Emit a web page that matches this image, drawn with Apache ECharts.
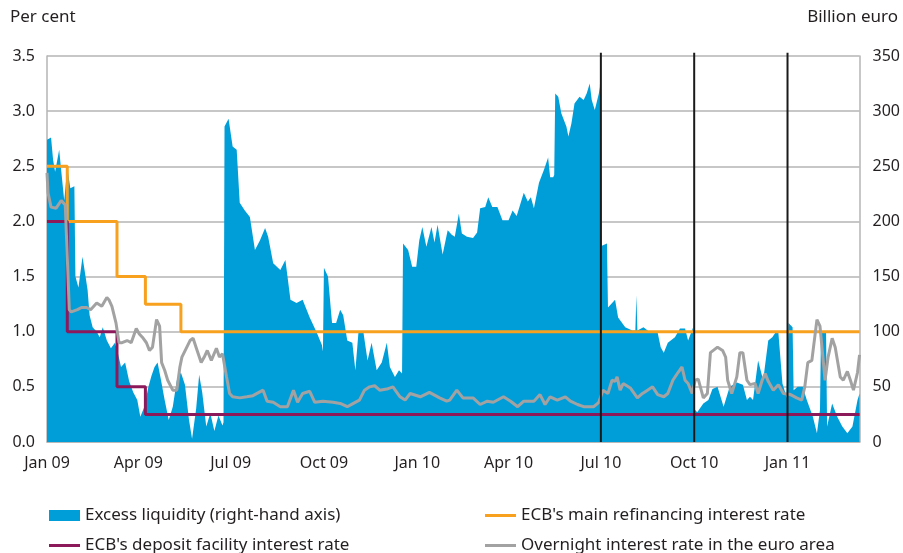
<!DOCTYPE html>
<html>
<head>
<meta charset="utf-8">
<script src="https://cdn.jsdelivr.net/npm/echarts@6/dist/echarts.min.js"></script>
<style>
  html, body { margin: 0; padding: 0; background: #fff; }
  #main { width: 903px; height: 553px; }
</style>
</head>
<body>
<div id="main"></div>
<script>
// excess liquidity, billion euro (right-hand axis)
var liquidityDates = [
  '2009-01-01','2009-01-05','2009-01-07','2009-01-09','2009-01-13','2009-01-16','2009-01-18','2009-01-21','2009-01-24','2009-01-28',
  '2009-01-29','2009-02-01','2009-02-05','2009-02-08','2009-02-10','2009-02-12','2009-02-15','2009-02-19','2009-02-22','2009-02-25',
  '2009-03-01','2009-03-05','2009-03-09','2009-03-12','2009-03-15','2009-03-19','2009-03-23','2009-03-27','2009-03-31','2009-04-03',
  '2009-04-07','2009-04-11','2009-04-14','2009-04-17','2009-04-20','2009-04-23','2009-04-27','2009-05-01','2009-05-05','2009-05-09',
  '2009-05-13','2009-05-17','2009-05-21','2009-05-24','2009-05-28','2009-05-31','2009-06-03','2009-06-07','2009-06-11','2009-06-15',
  '2009-06-19','2009-06-23','2009-06-24','2009-06-25','2009-06-29','2009-07-03','2009-07-07','2009-07-10','2009-07-15','2009-07-20',
  '2009-07-25','2009-07-30','2009-08-04','2009-08-07','2009-08-12','2009-08-19','2009-08-24','2009-08-29','2009-09-04','2009-09-10',
  '2009-09-17','2009-09-24','2009-09-29','2009-09-30','2009-10-01','2009-10-05','2009-10-09','2009-10-13','2009-10-17','2009-10-20',
  '2009-10-24','2009-10-29','2009-11-01','2009-11-04','2009-11-09','2009-11-13','2009-11-17','2009-11-22','2009-11-27','2009-12-02',
  '2009-12-05','2009-12-10','2009-12-14','2009-12-17','2009-12-18','2009-12-23','2009-12-27','2009-12-31',
  '2010-01-03','2010-01-06','2010-01-10','2010-01-15','2010-01-18','2010-01-21','2010-01-26','2010-01-31','2010-02-04','2010-02-07',
  '2010-02-11','2010-02-14','2010-02-19','2010-02-25','2010-03-01','2010-03-04','2010-03-09','2010-03-12','2010-03-16','2010-03-21',
  '2010-03-26','2010-04-01','2010-04-05','2010-04-09','2010-04-13','2010-04-16','2010-04-20','2010-04-23','2010-04-26','2010-05-01',
  '2010-05-06','2010-05-10','2010-05-12','2010-05-15','2010-05-16','2010-05-17','2010-05-20','2010-05-23','2010-05-28','2010-05-30',
  '2010-06-02','2010-06-05','2010-06-10','2010-06-14','2010-06-17','2010-06-20','2010-06-22','2010-06-25','2010-06-29','2010-06-30',
  '2010-07-01','2010-07-02','2010-07-07','2010-07-08','2010-07-15','2010-07-18','2010-07-25','2010-08-01','2010-08-04','2010-08-05',
  '2010-08-06','2010-08-12','2010-08-19','2010-08-26','2010-08-29','2010-09-01','2010-09-05','2010-09-12','2010-09-17','2010-09-22',
  '2010-09-25','2010-09-30','2010-10-01','2010-10-04','2010-10-10','2010-10-15','2010-10-19','2010-10-24','2010-10-30','2010-11-05',
  '2010-11-12','2010-11-18','2010-11-22','2010-11-25','2010-11-28','2010-12-03','2010-12-08','2010-12-13','2010-12-17','2010-12-20',
  '2010-12-23','2010-12-27','2010-12-30','2010-12-31',
  '2011-01-02','2011-01-06','2011-01-07','2011-01-11','2011-01-16','2011-01-20','2011-01-26','2011-01-30','2011-02-02','2011-02-03',
  '2011-02-08','2011-02-09','2011-02-14','2011-02-19','2011-02-24','2011-03-01','2011-03-06','2011-03-11','2011-03-13'
];
var liquidityValues = [
  274,276,256,245,265,237,219,249,230,232,
  150,140,168,150,138,115,104,100,95,104,
  92,85,90,80,68,72,55,45,38,23,
  32,50,60,68,72,58,38,20,32,56,
  63,52,20,3,30,61,45,14,26,10,
  24,15,18,286,293,268,265,217,210,204,
  174,183,194,186,162,156,165,129,126,129,
  113,99,88,82,158,150,108,108,120,115,
  92,90,65,99,99,74,90,65,72,90,
  68,59,65,62,180,174,159,159,
  183,195,177,195,181,197,170,192,188,186,
  207,189,186,185,190,212,213,222,213,213,
  201,201,210,205,217,226,218,222,212,235,
  247,258,240,240,242,316,313,298,286,277,
  289,307,313,310,316,325,310,301,316,322,
  349,178,180,122,129,113,104,101,101,133,
  101,104,99,99,86,81,90,95,103,103,
  92,104,30,27,35,38,48,50,32,50,
  54,52,38,41,38,74,56,92,95,99,
  99,53,44,40,
  108,104,47,50,50,38,23,8,29,99,
  99,14,35,23,14,8,14,38,44
];

// overnight interest rate in the euro area, per cent
var overnightDates = [
  '2009-01-01','2009-01-02','2009-01-05','2009-01-10','2009-01-15','2009-01-19','2009-01-23','2009-01-25','2009-01-31','2009-02-04',
  '2009-02-09','2009-02-13','2009-02-19','2009-02-24','2009-03-01','2009-03-03','2009-03-06','2009-03-10','2009-03-13','2009-03-16',
  '2009-03-21','2009-03-25','2009-03-30','2009-04-02','2009-04-05','2009-04-09','2009-04-12','2009-04-15','2009-04-19','2009-04-22',
  '2009-04-24','2009-04-27','2009-04-30','2009-05-05','2009-05-09','2009-05-12','2009-05-14','2009-05-22','2009-05-25','2009-05-29',
  '2009-06-02','2009-06-05','2009-06-08','2009-06-12','2009-06-17','2009-06-20','2009-06-23','2009-06-27','2009-06-30','2009-07-03',
  '2009-07-10','2009-07-17','2009-07-23','2009-08-02','2009-08-06','2009-08-12','2009-08-19','2009-08-26','2009-09-01','2009-09-05',
  '2009-09-10','2009-09-17','2009-09-22','2009-09-30','2009-10-10','2009-10-17','2009-10-24','2009-10-30','2009-11-05','2009-11-10',
  '2009-11-15','2009-11-20','2009-11-25','2009-12-02','2009-12-08','2009-12-15','2009-12-20','2009-12-25',
  '2010-01-04','2010-01-13','2010-01-23','2010-01-30','2010-02-02','2010-02-09','2010-02-15','2010-02-25','2010-03-04','2010-03-11',
  '2010-03-17','2010-03-27','2010-04-03','2010-04-10','2010-04-16','2010-04-26','2010-05-02','2010-05-07','2010-05-12','2010-05-19',
  '2010-05-27','2010-06-01','2010-06-08','2010-06-14','2010-06-24','2010-06-29','2010-07-03','2010-07-08','2010-07-12','2010-07-15',
  '2010-07-17','2010-07-20','2010-07-23','2010-07-30','2010-08-06','2010-08-11','2010-08-16','2010-08-21','2010-08-26','2010-09-01',
  '2010-09-05','2010-09-10','2010-09-15','2010-09-19','2010-09-22','2010-09-25','2010-09-29','2010-10-02','2010-10-05','2010-10-10',
  '2010-10-14','2010-10-17','2010-10-24','2010-10-29','2010-11-01','2010-11-03','2010-11-07','2010-11-12','2010-11-15','2010-11-18',
  '2010-11-22','2010-11-25','2010-11-30','2010-12-03','2010-12-07','2010-12-10','2010-12-13','2010-12-18','2010-12-23','2010-12-28',
  '2011-01-04','2011-01-10','2011-01-15','2011-01-18','2011-01-21','2011-01-25','2011-01-30','2011-02-02','2011-02-07','2011-02-10',
  '2011-02-14','2011-02-17','2011-02-22','2011-02-25','2011-03-01','2011-03-04','2011-03-07','2011-03-11','2011-03-13'
];
var overnightValues = [
  2.44,2.26,2.13,2.12,2.19,2.15,1.20,1.18,1.20,1.22,
  1.22,1.20,1.26,1.23,1.31,1.29,1.23,1.08,0.90,0.90,
  0.92,0.90,1.03,0.98,0.95,0.90,0.83,0.86,1.11,1.05,
  0.72,0.65,0.56,0.47,0.47,0.68,0.77,0.92,0.94,0.83,
  0.72,0.77,0.83,0.74,0.85,0.77,0.80,0.59,0.44,0.41,
  0.40,0.41,0.42,0.47,0.37,0.36,0.32,0.32,0.47,0.36,
  0.44,0.46,0.36,0.37,0.36,0.35,0.32,0.35,0.38,0.47,
  0.50,0.51,0.47,0.48,0.50,0.41,0.38,0.44,
  0.41,0.45,0.40,0.37,0.38,0.47,0.40,0.40,0.34,0.37,
  0.36,0.41,0.37,0.32,0.37,0.37,0.43,0.34,0.41,0.38,
  0.41,0.37,0.34,0.32,0.32,0.36,0.47,0.44,0.56,0.55,
  0.59,0.47,0.53,0.49,0.40,0.44,0.47,0.50,0.43,0.41,
  0.44,0.56,0.63,0.68,0.56,0.53,0.44,0.56,0.57,0.40,
  0.44,0.81,0.86,0.83,0.77,0.56,0.44,0.59,0.81,0.81,
  0.56,0.52,0.53,0.44,0.56,0.62,0.55,0.47,0.52,0.44,
  0.43,0.40,0.38,0.50,0.72,0.74,1.11,1.05,0.56,0.77,
  0.94,0.86,0.59,0.56,0.64,0.56,0.47,0.63,0.79
];

// ECB policy rates, per cent (value holds until the next date)
var refiDates = ['2009-01-01','2009-01-21','2009-03-11','2009-04-08','2009-05-13','2011-03-13'];
var refiValues = [2.5, 2.0, 1.5, 1.25, 1.0, 1.0];
var depositDates = ['2009-01-01','2009-01-21','2009-03-11','2009-04-08','2011-03-13'];
var depositValues = [2.0, 1.0, 0.5, 0.25, 0.25];

// x axis
var tickDates = ['2009-01-01','2009-04-01','2009-07-01','2009-10-01','2010-01-01','2010-04-01','2010-07-01','2010-10-01','2011-01-01'];
var tickLabels = ['Jan 09','Apr 09','Jul 09','Oct 09','Jan 10','Apr 10','Jul 10','Oct 10','Jan 11'];
var markerDates = ['2010-07-01','2010-10-01','2011-01-01'];
var startDate = '2009-01-01';
var endDate = '2011-03-13';

var names = [
  'Excess liquidity (right-hand axis)',
  "ECB's main refinancing interest rate",
  "ECB's deposit facility interest rate",
  'Overnight interest rate in the euro area'
];

function toTime(s) {
  var p = s.split('-');
  return Date.UTC(+p[0], +p[1] - 1, +p[2]);
}
function pairs(dates, values) {
  return dates.map(function (d, i) { return [toTime(d), values[i]]; });
}

var tickTimes = tickDates.map(toTime);
var labelOf = {};
tickTimes.forEach(function (t, i) { labelOf[t] = tickLabels[i]; });

var font = 'Noto Sans';
var textColor = '#231f20';
var gridColor = '#b4b4b4';

var myChart = echarts.init(document.getElementById('main'));
var legendText = { fontFamily: font, fontSize: 17, color: textColor };

// vertical black marker lines, drawn in right-axis units slightly above the top
var markerSeries = markerDates.map(function (d) {
  return {
    type: 'line', yAxisIndex: 1, symbol: 'none', clip: false, silent: true, z: 3,
    color: '#1a1a1a', lineStyle: { width: 2, color: '#1a1a1a' },
    data: [[toTime(d), 0], [toTime(d), 353]]
  };
});

var option = {
  animation: false,
  backgroundColor: '#fff',
  grid: { left: 47, right: 43, top: 56, bottom: 111 },
  graphic: [
    { type: 'text', left: 10, top: 9, style: { text: 'Per cent', fontFamily: font, fontSize: 17, fill: textColor } },
    { type: 'text', right: 5, top: 9, style: { text: 'Billion euro', fontFamily: font, fontSize: 17, fill: textColor } }
  ],
  legend: [
    { data: [names[0]], left: 44, top: 502, icon: 'rect', itemWidth: 31, itemHeight: 11, itemGap: 4, textStyle: legendText },
    { data: [names[1]], left: 480, top: 502, icon: 'rect', itemWidth: 31, itemHeight: 3, textStyle: legendText },
    { data: [names[2]], left: 44, top: 532, icon: 'rect', itemWidth: 31, itemHeight: 3, textStyle: legendText },
    { data: [names[3]], left: 480, top: 532, icon: 'rect', itemWidth: 31, itemHeight: 3, textStyle: legendText }
  ],
  xAxis: {
    type: 'value',
    min: toTime(startDate),
    max: toTime(endDate),
    axisLine: { lineStyle: { color: gridColor, width: 1.5 } },
    axisTick: { show: true, inside: true, length: 5, customValues: tickTimes, lineStyle: { color: gridColor } },
    axisLabel: {
      customValues: tickTimes,
      formatter: function (v) { return labelOf[v] || ''; },
      fontFamily: font, fontSize: 16, color: textColor, margin: 13
    },
    splitLine: { show: false }
  },
  yAxis: [
    {
      type: 'value', min: 0, max: 3.5, interval: 0.5,
      axisLine: { show: true, lineStyle: { color: gridColor, width: 1.5 } },
      axisTick: { show: false },
      axisLabel: { formatter: function (v) { return v.toFixed(1); }, fontFamily: font, fontSize: 16, color: textColor, margin: 12 },
      splitLine: { lineStyle: { color: gridColor, width: 1.5 } }
    },
    {
      type: 'value', min: 0, max: 350, interval: 50, position: 'right',
      axisLine: { show: true, lineStyle: { color: gridColor, width: 1.5 } },
      axisTick: { show: false },
      axisLabel: { fontFamily: font, fontSize: 16, color: textColor, margin: 13 },
      splitLine: { show: false }
    }
  ],
  series: [
    {
      name: names[0], type: 'line', yAxisIndex: 1, symbol: 'none',
      color: '#009ed9',
      lineStyle: { width: 0 },
      areaStyle: { color: '#009ed9', opacity: 1 },
      data: pairs(liquidityDates, liquidityValues)
    },
    {
      name: names[1], type: 'line', step: 'end', symbol: 'none', color: '#f7a11f',
      lineStyle: { width: 3 }, data: pairs(refiDates, refiValues)
    },
    {
      name: names[2], type: 'line', step: 'end', symbol: 'none', color: '#8c1a5b',
      lineStyle: { width: 3 }, data: pairs(depositDates, depositValues)
    },
    {
      name: names[3], type: 'line', symbol: 'none', color: '#a2a2a2',
      lineStyle: { width: 3 }, data: pairs(overnightDates, overnightValues)
    }
  ].concat(markerSeries)
};
myChart.setOption(option);
</script>
</body>
</html>
